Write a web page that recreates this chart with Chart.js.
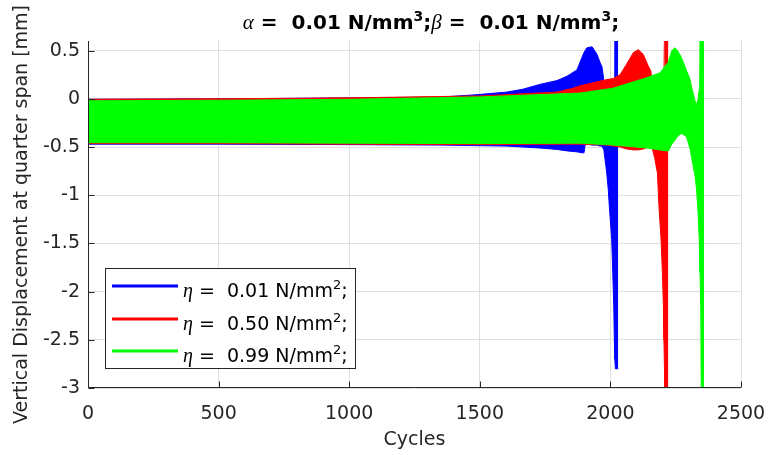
<!DOCTYPE html>
<html>
<head>
<meta charset="utf-8">
<script src="https://cdn.jsdelivr.net/npm/chart.js@4.4.1/dist/chart.umd.min.js"></script>
<style>
  html, body { margin: 0; padding: 0; background: #fff; }
  #wrap { width: 769px; height: 455px; position: relative; }
</style>
</head>
<body>
<div id="wrap"><canvas id="grafico"></canvas></div>
<script>
// envelopes of the displacement signal
const blueCycles = [0, 500, 1000, 1348, 1474, 1604, 1665, 1730, 1796, 1834, 1872, 1891, 1899, 1903, 1910, 1930, 1949, 1960, 1968, 1975, 1986, 1992, 1996, 2005, 2009, 2013, 2015, 2017, 2019, 2030];
const blueUpper  = [-0.005, 0.0, 0.01, 0.018, 0.04, 0.07, 0.10, 0.15, 0.19, 0.235, 0.30, 0.43, 0.48, 0.50, 0.53, 0.54, 0.46, 0.38, 0.33, 0.19, 0.05, -0.05, -0.1, -0.2, -0.25, -0.3, -0.3, 0.7, 0.7, 0.7];
const blueLower  = [-0.47, -0.47, -0.475, -0.48, -0.485, -0.49, -0.50, -0.51, -0.525, -0.54, -0.55, -0.56, -0.56, -0.48, -0.47, -0.48, -0.48, -0.49, -0.49, -0.53, -0.77, -0.945, -1.12, -1.46, -1.8, -2.16, -2.5, -2.7, -2.8, -2.8];

const redCycles = [0, 500, 1000, 1500, 1796, 1857, 1884, 1987, 2011, 2037, 2062, 2088, 2107, 2126, 2145, 2155, 2159, 2170, 2180, 2186, 2194, 2199, 2203, 2205, 2207, 2209, 2222];
const redUpper  = [-0.005, 0.0, 0.01, 0.03, 0.07, 0.11, 0.135, 0.2, 0.21, 0.25, 0.36, 0.48, 0.51, 0.46, 0.34, 0.29, 0.15, 0.1, 0.05, 0.0, -0.1, -0.15, -0.2, -0.2, 0.7, 0.7, 0.7];
const redLower  = [-0.465, -0.465, -0.47, -0.475, -0.47, -0.47, -0.47, -0.48, -0.49, -0.50, -0.52, -0.53, -0.53, -0.52, -0.50, -0.50, -0.50, -0.62, -0.77, -1.12, -1.46, -1.8, -2.16, -2.5, -2.8, -3.2, -3.2];

const greenCycles = [0, 500, 1000, 1500, 1884, 2010, 2140, 2190, 2215, 2222, 2235, 2247, 2254, 2266, 2273, 2285, 2292, 2305, 2311, 2324, 2330, 2336, 2340, 2343, 2346, 2348, 2359];
const greenUpper  = [-0.02, -0.015, -0.005, 0.02, 0.06, 0.11, 0.22, 0.27, 0.36, 0.38, 0.50, 0.53, 0.51, 0.46, 0.42, 0.34, 0.29, 0.2, 0.12, -0.02, -0.06, 0.0, 0.1, 0.7, 0.7, 0.7, 0.7];
const greenLower  = [-0.455, -0.455, -0.46, -0.465, -0.46, -0.48, -0.51, -0.53, -0.54, -0.54, -0.47, -0.43, -0.40, -0.37, -0.36, -0.38, -0.40, -0.52, -0.61, -0.8, -0.945, -1.2, -1.46, -1.8, -2.16, -3.2, -3.2];

const xTicks = [0, 500, 1000, 1500, 2000, 2500];
const yTicks = [-3, -2.5, -2, -1.5, -1, -0.5, 0, 0.5];
const etaValues = ['0.01', '0.50', '0.99'];
const seriesColors = ['#0000ff', '#ff0000', '#00ff00'];

const SANS = '"DejaVu Sans", sans-serif';
const SERIF = '"Liberation Serif", serif';

function pontos(cycles, vals) {
    return cycles.map((c, i) => ({ x: c, y: vals[i] }));
}

function banda(cycles, upper, lower, cor, ordem) {
    return [
        { data: pontos(cycles, upper), borderColor: cor, backgroundColor: cor, borderWidth: 1,
          pointRadius: 0, fill: false, order: ordem },
        { data: pontos(cycles, lower), borderColor: cor, backgroundColor: cor, borderWidth: 1,
          pointRadius: 0, fill: '-1', order: ordem }
    ];
}

// draws a sequence of text pieces (normal / greek / superscript) one after another
function desenhaRuns(ctx, runs, x, base) {
    runs.forEach(r => {
        ctx.font = r.font;
        ctx.fillText(r.text, x, base - (r.rise || 0));
        x += ctx.measureText(r.text).width;
    });
    return x;
}
function larguraRuns(ctx, runs) {
    let w = 0;
    runs.forEach(r => { ctx.font = r.font; w += ctx.measureText(r.text).width; });
    return w;
}

const eixosPlugin = {
    id: 'eixos',
    afterDatasetsDraw(chart) {
        const { ctx, chartArea: a, scales: { x, y } } = chart;
        ctx.save();
        ctx.strokeStyle = '#262626';
        ctx.lineWidth = 1;
        const L = Math.round(a.left) + 0.5, B = Math.round(a.bottom) - 0.5;
        ctx.beginPath();
        ctx.moveTo(L, a.top);
        ctx.lineTo(L, B);
        ctx.lineTo(a.right, B);
        xTicks.forEach(v => {
            const px = Math.round(x.getPixelForValue(v)) + 0.5;
            ctx.moveTo(px, B); ctx.lineTo(px, B - 6);
        });
        yTicks.forEach(v => {
            const py = Math.round(y.getPixelForValue(v)) + 0.5;
            ctx.moveTo(L, py); ctx.lineTo(L + 6, py);
        });
        ctx.stroke();
        ctx.restore();
    }
};

const tituloPlugin = {
    id: 'titulo',
    afterDraw(chart) {
        const ctx = chart.ctx;
        const bold = 'bold 20px ' + SANS, sup = 'bold 14px ' + SANS, greek = 'italic 21px ' + SERIF;
        const runs = [
            { text: 'α', font: greek }, { text: ' =  0.01 N/mm', font: bold }, { text: '3', font: sup, rise: 8 },
            { text: ';', font: bold },
            { text: 'β', font: greek }, { text: ' =  0.01 N/mm', font: bold }, { text: '3', font: sup, rise: 8 },
            { text: ';', font: bold }
        ];
        ctx.save();
        ctx.fillStyle = '#000';
        ctx.textBaseline = 'alphabetic';
        ctx.textAlign = 'left';
        const w = larguraRuns(ctx, runs);
        desenhaRuns(ctx, runs, 431 - w / 2, 29);
        ctx.restore();
    }
};

const legendaPlugin = {
    id: 'legenda',
    afterDraw(chart) {
        const ctx = chart.ctx;
        const norm = '19px ' + SANS, sup = '13px ' + SANS, greek = 'italic 20px ' + SERIF;
        const left = 105.5, top = 268.5, rowY = [286, 319, 351];
        const linhas = etaValues.map(v => [
            { text: 'η', font: greek }, { text: ' =  ' + v + ' N/mm', font: norm },
            { text: '2', font: sup, rise: 8 }, { text: ';', font: norm }
        ]);
        ctx.save();
        const w = Math.max(...linhas.map(r => larguraRuns(ctx, r)));
        const right = Math.round(183 + w + 7) + 0.5;
        ctx.fillStyle = '#fff';
        ctx.fillRect(left, top, right - left, 100);
        ctx.strokeStyle = '#262626';
        ctx.lineWidth = 1;
        ctx.strokeRect(left, top, right - left, 100);
        linhas.forEach((runs, i) => {
            ctx.strokeStyle = seriesColors[i];
            ctx.lineWidth = 3;
            ctx.beginPath();
            ctx.moveTo(112, rowY[i]);
            ctx.lineTo(178, rowY[i]);
            ctx.stroke();
            ctx.fillStyle = '#000';
            ctx.textBaseline = 'alphabetic';
            desenhaRuns(ctx, runs, 183, rowY[i] + 11);
        });
        ctx.restore();
    }
};

const ctxGrafico = document.getElementById('grafico').getContext('2d');
new Chart(ctxGrafico, {
    type: 'line',
    data: {
        datasets: [
            ...banda(blueCycles, blueUpper, blueLower, seriesColors[0], 3),
            ...banda(redCycles, redUpper, redLower, seriesColors[1], 2),
            ...banda(greenCycles, greenUpper, greenLower, seriesColors[2], 1)
        ]
    },
    options: {
        responsive: true,
        maintainAspectRatio: false,
        animation: false,
        events: [],
        layout: { padding: { top: 41, right: 28, left: 0, bottom: 0 } },
        scales: {
            x: {
                type: 'linear',
                min: 0,
                max: 2500,
                afterBuildTicks: (s) => { s.ticks = xTicks.map(v => ({ value: v })); },
                afterFit: (s) => { s.height = 67; s.paddingLeft = 0; s.paddingRight = 0; },
                grid: { color: '#dfdfdf', drawTicks: false },
                border: { display: false },
                ticks: { color: '#262626', font: { family: SANS, size: 19 }, padding: 15,
                         maxRotation: 0, callback: (v) => String(v) },
                title: { display: true, text: 'Cycles', color: '#262626',
                         font: { family: SANS, size: 19 }, padding: { top: 0, bottom: 4 } }
            },
            y: {
                type: 'linear',
                min: -3,
                max: 0.6,
                afterBuildTicks: (s) => { s.ticks = yTicks.map(v => ({ value: v })); },
                afterFit: (s) => { s.width = 88; s.paddingTop = 0; s.paddingBottom = 0; },
                grid: { color: '#dfdfdf', drawTicks: false },
                border: { display: false },
                ticks: { color: '#262626', font: { family: SANS, size: 19 }, padding: 8,
                         callback: (v) => String(v) },
                title: { display: true, text: 'Vertical Displacement at quarter span [mm]', color: '#262626',
                         font: { family: SANS, size: 19 }, padding: { top: 11, bottom: 0 } }
            }
        },
        plugins: {
            legend: { display: false },
            tooltip: { enabled: false },
            title: { display: false }
        }
    },
    plugins: [eixosPlugin, tituloPlugin, legendaPlugin]
});
</script>
</body>
</html>
